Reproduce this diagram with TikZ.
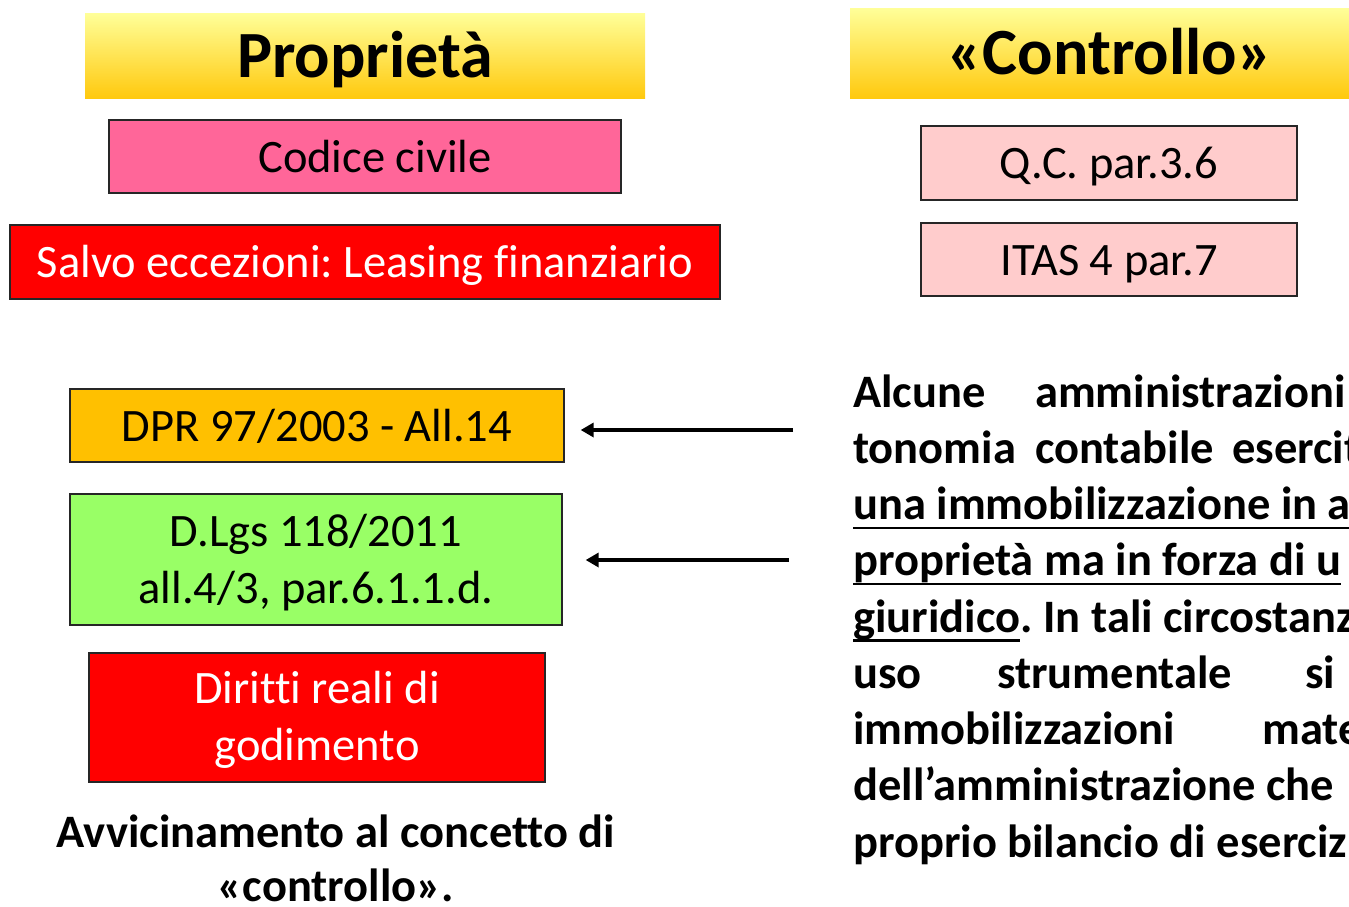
\documentclass[tikz,border=0pt]{standalone}
\usepackage{fontspec}
\setmainfont{Carlito}[Ligatures=NoCommon]
\frenchspacing
\usetikzlibrary{arrows.meta}
\definecolor{rosa}{HTML}{FF6699}
\definecolor{rosino}{HTML}{FFCCCC}
\definecolor{arancio}{HTML}{FFC000}
\definecolor{verde}{HTML}{99FF66}
\definecolor{giallino}{HTML}{FFFF99}
\definecolor{oro}{HTML}{FFC90E}

\begin{document}
\begin{tikzpicture}[x=1pt,y=-1pt,
  titolo/.style={inner sep=0pt, top color=giallino, bottom color=oro, text height=50pt, text depth=7pt, font=\bfseries\fontsize{66}{70}\selectfont},
  box/.style={draw=black!85, line width=1.3pt, inner sep=0pt, align=center, text height=35pt, text depth=4pt, font=\fontsize{46.5}{57}\selectfont},
  riga/.style={anchor=base west, inner sep=0pt, font=\bfseries\fontsize{46.5}{56}\selectfont},
  freccia/.style={line width=4pt, -{Triangle[length=13pt,width=14pt]}}]
\clip (0,0) rectangle (1349,906);
%
\node[titolo, minimum width=560pt, minimum height=85pt] (prop) at (365,55.5) {Proprietà};
\node[titolo, minimum width=520pt, minimum height=90pt] (contr) at (1110,53) {«Controllo»};
%
\node[box, fill=rosa, minimum width=512pt, minimum height=73pt] (cc) at (365,156.5) {\hspace*{20pt}Codice civile};
\node[box, fill=red, text=white, minimum width=710pt, minimum height=74pt] (salvo) at (365,262) {Salvo eccezioni: Leasing finanziario};
\node[box, fill=rosino, minimum width=376pt, minimum height=74pt] (qc) at (1109,163) {Q.C. par.3.6};
\node[box, fill=rosino, minimum width=376pt, minimum height=73pt] (itas) at (1109,259.5) {ITAS 4 par.7};
%
\node[box, fill=arancio, minimum width=494pt, minimum height=73pt] (dpr) at (317,425.5) {DPR 97/2003 - All.14};
\node[box, fill=verde, minimum width=492pt, minimum height=131pt, text height=92pt] (dlgs) at (316,559.5) {D.Lgs 118/2011\\all.4/3, par.6.1.1.d.};
\node[box, fill=red, text=white, minimum width=456pt, minimum height=129pt, text height=89pt] (dir) at (317,717.5) {Diritti reali di\\godimento};
\node[align=center, inner sep=0pt, text height=90pt, text depth=4pt, font=\bfseries\fontsize{46.5}{54}\selectfont] (avv) at (336,858) {Avvicinamento al concetto di\\«controllo».};
%
\coordinate (c1) at (793,430);
\coordinate (c2) at (789,560);
\draw[freccia, shorten >=16pt] (c1) -- (c1 -| dpr.east);
\draw[freccia, shorten >=23pt] (c2) -- (c2 -| dlgs.east);
%
\foreach \n/\x/\y/\t in {a/853/407/Alcune, b/1035/407/amministrazioni,
  c/853/463.25/tonomia, d/1035/463.25/contabile, e/1232/463.25/esercit,
  f/853/519.5/una immobilizzazione in a, g/853/575.75/proprietà ma in forza di u,
  h/853/632/giuridico,
  i/853/688.25/uso, j/997/688.25/strumentale, k/1305/688.25/si,
  l/853/744.5/immobilizzazioni, m/1262/744.5/mate,
  n/853/800.75/dell’amministrazione che,
  p/853/857/proprio bilancio di eserciz}
  \node[riga] (r\n) at (\x,\y) {\t};
\node[riga] (rh2) at (rh.base east) {. In tali circostanz};
%
\foreach \n in {f,g,h}
  \draw[line width=2.4pt] ([yshift=-8.5pt]r\n.base west) -- ([yshift=-8.5pt]r\n.base east);
\end{tikzpicture}
\end{document}
